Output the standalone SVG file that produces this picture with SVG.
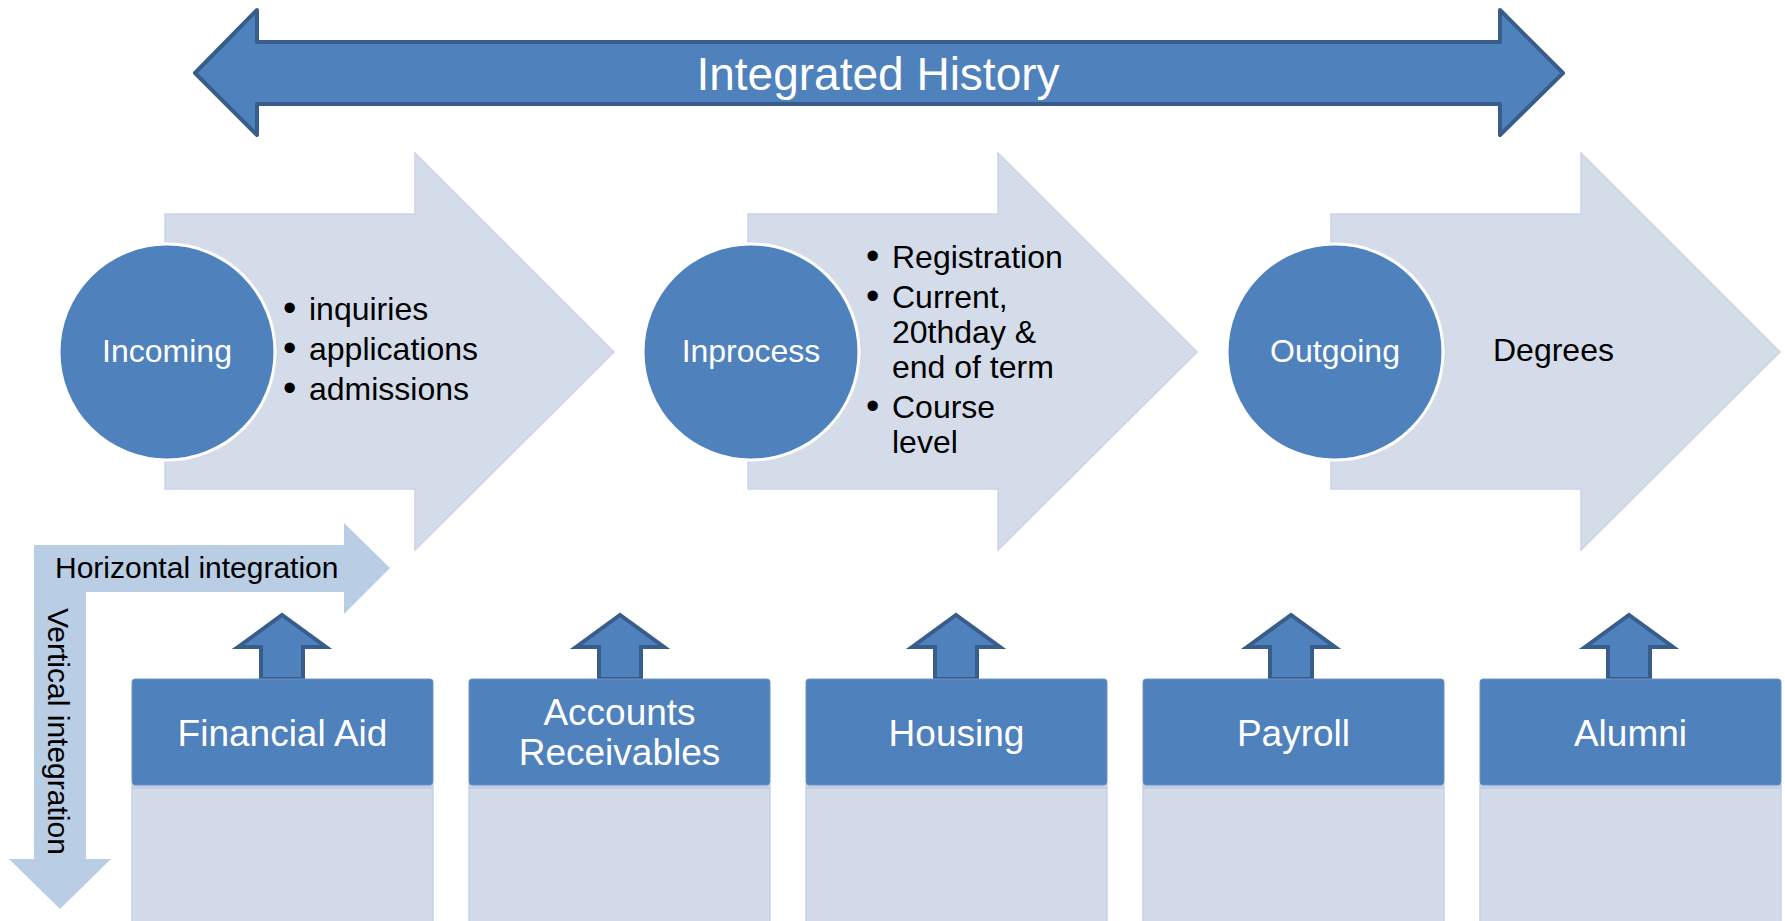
<svg xmlns="http://www.w3.org/2000/svg" width="1785" height="921" viewBox="0 0 1785 921">
<style>
text{font-family:"Liberation Sans",Arial,sans-serif}
.big{fill:#4F81BD;stroke:#385D8A;stroke-width:4;stroke-linejoin:round}
.chev{fill:#D4DCEA;stroke:#CBD4E6;stroke-width:1.5}
.circ{fill:#4F81BD;stroke:#FFFFFF;stroke-width:3}
.ctext{fill:#FFFFFF;font-size:32px;text-anchor:middle}
.btext{fill:#000000;font-size:32px}
.bul{font-size:38px}
.integ{fill:#B9CDE5}
.up{fill:#4F81BD;stroke:#385D8A;stroke-width:4;stroke-linejoin:miter}
.hdr{fill:#4F81BD;stroke:#6E93C6;stroke-width:1}
.body{fill:#D3DBEA;stroke:#C8D2E5;stroke-width:1.5}
.band{fill:#C4CFE3}
.htext{fill:#FFFFFF;font-size:37px;text-anchor:middle}
</style>
<defs>
<path id="chevShape" d="M165,214 H415 V153 L614,352 L415,550 V489 H165 Z"/>
</defs>
<rect width="1785" height="921" fill="#FFFFFF"/>

<g id="integrated-history">
<path class="big" d="M195,73 L257,10 L257,42 L1500,42 L1500,10 L1563,73 L1500,135 L1500,104 L257,104 L257,135 Z"/>
<text x="878" y="90" fill="#FFFFFF" font-size="46" text-anchor="middle">Integrated History</text>
</g>

<g id="incoming">
<use href="#chevShape" class="chev"/>
<circle class="circ" cx="167" cy="352" r="108"/>
<text class="ctext" x="167" y="362">Incoming</text>
<text class="btext"><tspan class="bul" x="283" y="321">•</tspan><tspan x="309" y="320">inquiries</tspan><tspan class="bul" x="283" y="361">•</tspan><tspan x="309" y="360">applications</tspan><tspan class="bul" x="283" y="401">•</tspan><tspan x="309" y="400">admissions</tspan></text>
</g>

<g id="inprocess">
<use href="#chevShape" class="chev" transform="translate(583,0)"/>
<circle class="circ" cx="751" cy="352" r="108"/>
<text class="ctext" x="751" y="362">Inprocess</text>
<text class="btext"><tspan class="bul" x="866" y="269">•</tspan><tspan x="892" y="268">Registration</tspan><tspan class="bul" x="866" y="309">•</tspan><tspan x="892" y="308">Current,</tspan><tspan x="892" y="343">20thday &amp;</tspan><tspan x="892" y="378">end of term</tspan><tspan class="bul" x="866" y="419">•</tspan><tspan x="892" y="418">Course</tspan><tspan x="892" y="453">level</tspan></text>
</g>

<g id="outgoing">
<use href="#chevShape" class="chev" transform="translate(1166,0)"/>
<circle class="circ" cx="1335" cy="352" r="108"/>
<text class="ctext" x="1335" y="362">Outgoing</text>
<text class="btext" x="1493" y="361">Degrees</text>
</g>

<g id="integration-axes">
<path class="integ" d="M34,545 H344 V523 L390,568 L344,614 V592 H86 V859 H111 L60,909 L9,859 H34 Z"/>
<text x="55" y="578" font-size="30" fill="#000000">Horizontal integration</text>
<text transform="translate(48,608) rotate(90)" x="0" y="0" font-size="30" fill="#000000">Vertical integration</text>
</g>

<g id="connectors">
<path class="up" d="M238,647 L282,615 L326,647 H303 V679 H261 V647 Z"/>
<path class="up" d="M576,647 L620,615 L664,647 H641 V679 H599 V647 Z"/>
<path class="up" d="M912,647 L956,615 L1000,647 H977 V679 H935 V647 Z"/>
<path class="up" d="M1247,647 L1291,615 L1335,647 H1312 V679 H1270 V647 Z"/>
<path class="up" d="M1585,647 L1629,615 L1673,647 H1650 V679 H1608 V647 Z"/>
</g>

<g id="financial-aid">
<rect class="body" x="132" y="785" width="301" height="145"/>
<rect class="band" x="132" y="785" width="301" height="4"/>
<rect class="hdr" x="132" y="679" width="301" height="106" rx="3"/>
<text class="htext" x="282.5" y="746">Financial Aid</text>
</g>

<g id="accounts-receivables">
<rect class="body" x="469" y="785" width="301" height="145"/>
<rect class="band" x="469" y="785" width="301" height="4"/>
<rect class="hdr" x="469" y="679" width="301" height="106" rx="3"/>
<text class="htext" x="619.5" y="725">Accounts</text>
<text class="htext" x="619.5" y="765">Receivables</text>
</g>

<g id="housing">
<rect class="body" x="806" y="785" width="301" height="145"/>
<rect class="band" x="806" y="785" width="301" height="4"/>
<rect class="hdr" x="806" y="679" width="301" height="106" rx="3"/>
<text class="htext" x="956.5" y="746">Housing</text>
</g>

<g id="payroll">
<rect class="body" x="1143" y="785" width="301" height="145"/>
<rect class="band" x="1143" y="785" width="301" height="4"/>
<rect class="hdr" x="1143" y="679" width="301" height="106" rx="3"/>
<text class="htext" x="1293.5" y="746">Payroll</text>
</g>

<g id="alumni">
<rect class="body" x="1480" y="785" width="301" height="145"/>
<rect class="band" x="1480" y="785" width="301" height="4"/>
<rect class="hdr" x="1480" y="679" width="301" height="106" rx="3"/>
<text class="htext" x="1630.5" y="746">Alumni</text>
</g>
</svg>
